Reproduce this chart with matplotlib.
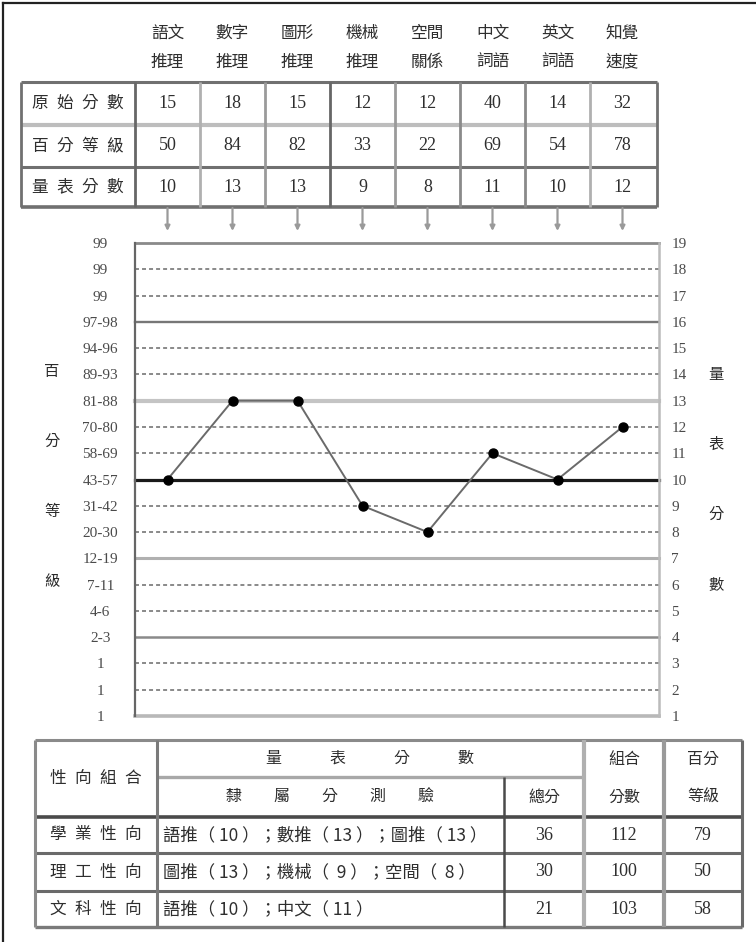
import matplotlib
matplotlib.use('Agg')
import matplotlib.pyplot as plt

# ---------------- data ----------------
categories = ["語文推理", "數字推理", "圖形推理", "機械推理",
              "空間關係", "中文詞語", "英文詞語", "知覺速度"]
row_names = ["原始分數", "百分等級", "量表分數"]
raw_scores = [15, 18, 15, 12, 12, 40, 14, 32]
percentile_ranks = [50, 84, 82, 33, 22, 69, 54, 78]
scale_scores = [10, 13, 13, 9, 8, 11, 10, 12]

scale_ticks = list(range(1, 20))
percentile_tick_labels = ["1", "1", "1", "2-3", "4-6", "7-11", "12-19", "20-30",
                          "31-42", "43-57", "58-69", "70-80", "81-88", "89-93",
                          "94-96", "97-98", "99", "99", "99"]
left_axis_title = "百分等級"
right_axis_title = "量表分數"

combo_names = ["學業性向", "理工性向", "文科性向"]
combo_members = [["語推", "數推", "圖推"], ["圖推", "機械", "空間"], ["語推", "中文"]]
combo_member_scores = [[10, 13, 13], [13, 9, 8], [10, 11]]
combo_totals = [36, 30, 21]
combo_composites = [112, 100, 103]
combo_percentiles = [79, 50, 58]
combo_headers = ["性向組合", "量表分數", "隸屬分測驗", "總分", "組合分數", "百分等級"]

# ---------------- style ----------------
CJK = ['Noto Sans CJK TC', 'DejaVu Sans']
NUM = ['Liberation Serif', 'DejaVu Serif']
TXT = '#2e2e2e'
EN = '\u2002'
IDS = '\u3000'

fig = plt.figure(figsize=(7.56, 9.42), dpi=100)
fig.patch.set_facecolor('white')
bg = fig.add_axes([0, 0, 1, 1])
bg.set_xlim(0, 756)
bg.set_ylim(942, 0)
bg.axis('off')

# outer frame (left & top visible)
bg.plot([3, 3], [3, 942], color='#222222', lw=1.6)
bg.plot([3, 756], [3, 3], color='#222222', lw=1.6)

# ---------------- top table ----------------
col_w = 65
col_edges = [135 + col_w * i for i in range(9)]
col_edges[-1] = 657
col_x = [167.5 + col_w * i for i in range(len(categories))]
ty = [82, 125, 167, 207]
tx0, tx1 = 21, 657

for x, name in zip(col_x, categories):
    bg.text(x, 33, name[:2], ha='center', va='center', fontsize=12, family=CJK, color=TXT)
    bg.text(x, 62, name[2:], ha='center', va='center', fontsize=12, family=CJK, color=TXT)

hcols = ['#707070', '#bdbdbd', '#707070', '#707070']
hws = [2.2, 3.0, 2.2, 2.6]
for y, c, w in zip(ty, hcols, hws):
    bg.plot([tx0, tx1], [y, y], color=c, lw=w, solid_capstyle='butt')
vcols = ['#707070', '#666666', '#b0b0b0', '#9a9a9a', '#666666', '#9a9a9a', '#8a8a8a', '#8a8a8a', '#b0b0b0', '#707070']
for x, c in zip([tx0] + col_edges, vcols):
    bg.plot([x, x], [ty[0], ty[-1]], color=c, lw=2.0, solid_capstyle='butt')

row_cy = [(ty[i] + ty[i + 1]) / 2 for i in range(3)]
for y, name in zip(row_cy, row_names):
    bg.text(78, y, EN.join(name), ha='center', va='center', fontsize=12, family=CJK, color=TXT)
for vals, y in zip([raw_scores, percentile_ranks, scale_scores], row_cy):
    for x, v in zip(col_x, vals):
        bg.text(x, y, str(v), ha='center', va='center', fontsize=13, family=NUM, color=TXT)

for x in col_x:
    bg.annotate('', xy=(x, 231), xytext=(x, 208),
                arrowprops=dict(arrowstyle='-|>', color='#9a9a9a', lw=1.6,
                                mutation_scale=7, shrinkA=0, shrinkB=0))

# ---------------- chart ----------------
L, R, T, B = 135, 659, 243, 716
ax = fig.add_axes([L / 756, 1 - B / 942, (R - L) / 756, (B - T) / 942])
ax.set_facecolor('none')
ax.set_xlim(-0.5, -0.5 + (R - L) / col_w)
ax.set_ylim(1, 19)

major = {19: ('#8a8a8a', 2.0), 16: ('#777777', 1.7), 13: ('#c4c4c4', 3.0),
         10: ('#1a1a1a', 2.3), 7: ('#b0b0b0', 2.2), 4: ('#8a8a8a', 1.8),
         1: ('#b8b8b8', 2.6)}
for lv in scale_ticks:
    if lv in major:
        c, w = major[lv]
        ax.axhline(lv, color=c, lw=w, clip_on=False, zorder=1)
    else:
        ax.axhline(lv, color='#6a6a6a', lw=1.1, ls=(0, (2.6, 2.0)), zorder=1)

for s in ['top', 'bottom']:
    ax.spines[s].set_visible(False)
ax.spines['left'].set_color('#666666')
ax.spines['left'].set_linewidth(1.6)
ax.spines['right'].set_color('#bbbbbb')
ax.spines['right'].set_linewidth(1.8)

ax.plot(range(len(scale_scores)), scale_scores, color='#6a6a6a', lw=1.4,
        marker='o', ms=6.5, mfc='black', mec='black', zorder=5, clip_on=False)

ax.set_xticks([])
ax.set_yticks(scale_ticks)
ax.set_yticklabels(percentile_tick_labels, family=NUM, fontsize=11, color='#4a4a4a')
ax.tick_params(axis='y', length=0, pad=25)
for lab in ax.get_yticklabels():
    lab.set_horizontalalignment('center')

ax2 = ax.twinx()
ax2.set_ylim(1, 19)
ax2.set_yticks(scale_ticks)
ax2.set_yticklabels([str(v) for v in scale_ticks], family=NUM, fontsize=11, color='#4a4a4a')
ax2.tick_params(axis='y', length=0, pad=9)
for s in ax2.spines.values():
    s.set_visible(False)

mid = (T + B) / 2 - 3
bg.text(52, mid, "\n".join(left_axis_title), ha='center', va='center',
        fontsize=11, family=CJK, color='#2a2a2a', linespacing=5.1)
bg.text(716, mid + 3, "\n".join(right_axis_title), ha='center', va='center',
        fontsize=11, family=CJK, color='#2a2a2a', linespacing=5.1)

# ---------------- bottom table ----------------
bx0, bx1 = 35, 742
by = [740, 777, 817, 853, 891, 927]
cx = [35, 157, 504, 584, 664, 742]

def hl(x0, x1, y, c='#6a6a6a', w=2.0):
    bg.plot([x0, x1], [y, y], color=c, lw=w, solid_capstyle='butt')

def vl(x, y0, y1, c='#6a6a6a', w=2.0):
    bg.plot([x, x], [y0, y1], color=c, lw=w, solid_capstyle='butt')

hl(bx0, bx1, by[0], '#8a8a8a', 2.2)
hl(cx[1], cx[3], by[1], '#a8a8a8', 2.4)
hl(bx0, bx1, by[2], '#4a4a4a', 2.6)
hl(bx0, bx1, by[3], '#6a6a6a', 2.2)
hl(bx0, bx1, by[4], '#6a6a6a', 2.2)
hl(bx0, bx1, by[5], '#7a7a7a', 2.4)
vl(cx[0], by[0], by[5], '#8a8a8a', 2.2)
vl(cx[1], by[0], by[5], '#7a7a7a', 2.2)
vl(cx[2], by[1], by[5], '#4a4a4a', 1.8)
vl(cx[3], by[0], by[5], '#b0b0b0', 3.0)
vl(cx[4], by[0], by[5], '#9a9a9a', 3.0)
vl(cx[5], by[0], by[5], '#6a6a6a', 2.2)

hdr_y1 = (by[0] + by[1]) / 2
hdr_y2 = (by[1] + by[2]) / 2
bg.text((cx[0] + cx[1]) / 2, (by[0] + by[2]) / 2, EN.join(combo_headers[0]),
        ha='center', va='center', fontsize=12, family=CJK, color=TXT)
bg.text((cx[1] + cx[3]) / 2, hdr_y1, (IDS * 3).join(combo_headers[1]),
        ha='center', va='center', fontsize=11.5, family=CJK, color=TXT)
bg.text((cx[1] + cx[2]) / 2, hdr_y2, (IDS * 2).join(combo_headers[2]),
        ha='center', va='center', fontsize=11.5, family=CJK, color=TXT)
bg.text((cx[2] + cx[3]) / 2, hdr_y2, combo_headers[3],
        ha='center', va='center', fontsize=11.5, family=CJK, color=TXT)
for k, c0 in ((4, 3), (5, 4)):
    h = combo_headers[k]
    xm = (cx[c0] + cx[c0 + 1]) / 2
    bg.text(xm, hdr_y1 + 1, h[:2], ha='center', va='center', fontsize=11.5, family=CJK, color=TXT)
    bg.text(xm, hdr_y2, h[2:], ha='center', va='center', fontsize=11.5, family=CJK, color=TXT)

for i in range(len(combo_names)):
    y = (by[i + 2] + by[i + 3]) / 2
    bg.text((cx[0] + cx[1]) / 2, y, EN.join(combo_names[i]), ha='center', va='center',
            fontsize=12, family=CJK, color=TXT)
    parts = [f"{m}（{s:>3} ）" for m, s in zip(combo_members[i], combo_member_scores[i])]
    bg.text(cx[1] + 6, y, "；".join(parts), ha='left', va='center',
            fontsize=12.5, family=CJK, color=TXT)
    bg.text((cx[2] + cx[3]) / 2, y, str(combo_totals[i]), ha='center', va='center',
            fontsize=13, family=NUM, color=TXT)
    bg.text((cx[3] + cx[4]) / 2, y, str(combo_composites[i]), ha='center', va='center',
            fontsize=13, family=NUM, color=TXT)
    bg.text((cx[4] + cx[5]) / 2, y, str(combo_percentiles[i]), ha='center', va='center',
            fontsize=13, family=NUM, color=TXT)

fig.savefig('out.png', dpi=100, facecolor='white')
